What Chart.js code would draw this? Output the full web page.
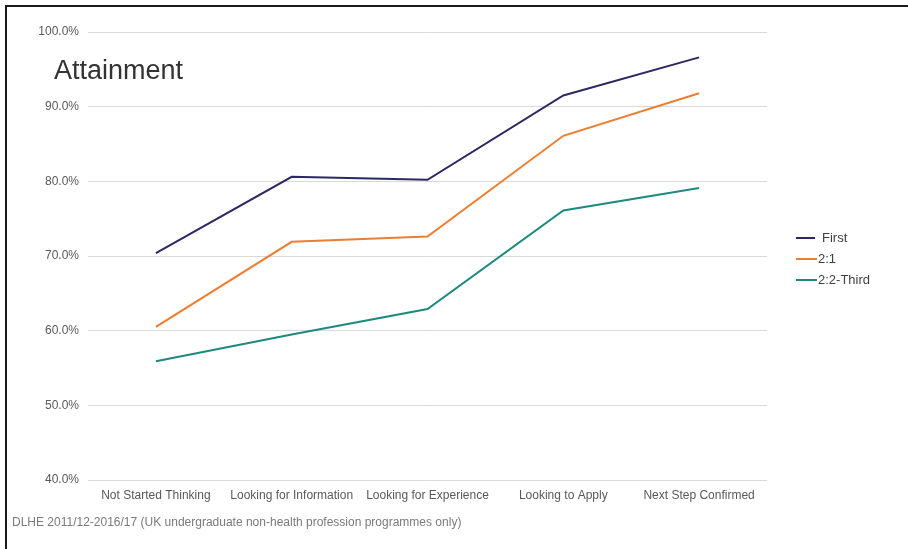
<!DOCTYPE html>
<html>
<head>
<meta charset="utf-8">
<script src="https://cdn.jsdelivr.net/npm/chart.js@4.4.0/dist/chart.umd.min.js"></script>
<style>
  html, body { margin: 0; padding: 0; background: #fff; overflow: hidden; }
  #frame {
    position: absolute; left: 5px; top: 5px;
    width: 901px; height: 542px;
    border-top: 2px solid #1a1a1a; border-left: 2px solid #1a1a1a; background: #fff;
  }
  #chart { position: absolute; left: 0; top: 0; }
  #note {
    position: absolute; left: 5px; top: 508px;
    font: 12px "Liberation Sans", Arial, sans-serif; color: #7a7a7a;
    white-space: nowrap;
  }
</style>
</head>
<body>
<div id="frame">
  <canvas id="chart" width="896" height="537"></canvas>
  <div id="note">DLHE 2011/12-2016/17 (UK undergraduate non-health profession programmes only)</div>
</div>
<script>
const categories = ['Not Started Thinking', 'Looking for Information', 'Looking for Experience', 'Looking to Apply', 'Next Step Confirmed'];
const firstValues = [70.4, 80.6, 80.2, 91.5, 96.6];
const upperSecondValues = [60.5, 71.9, 72.6, 86.1, 91.8];
const lowerSecondThirdValues = [55.9, 59.5, 62.9, 76.1, 79.1];
const seriesNames = ['First', '2:1', '2:2-Third'];
const seriesColors = ['#2b2963', '#ed7d31', '#1c8a7e'];
const yTicks = [40, 50, 60, 70, 80, 90, 100];

const FONT = '"Liberation Sans", Arial, sans-serif';

// title text sits inside the plot, top-left, like the original export
const titleAndLegend = {
  id: 'titleAndLegend',
  afterDraw(chart) {
    const { ctx } = chart;
    ctx.save();
    ctx.fillStyle = '#333333';
    ctx.font = `27px ${FONT}`;
    ctx.textBaseline = 'middle';
    ctx.textAlign = 'left';
    ctx.fillText('Attainment', 47, 65);

    ctx.font = `13px ${FONT}`;
    const rows = [231, 252, 273];
    chart.data.datasets.forEach((ds, i) => {
      const y = rows[i];
      ctx.strokeStyle = ds.borderColor;
      ctx.lineWidth = 2;
      ctx.beginPath();
      ctx.moveTo(789, y);
      ctx.lineTo(i === 0 ? 808 : 810, y);
      ctx.stroke();
      ctx.fillStyle = '#404040';
      ctx.fillText(ds.label, i === 0 ? 815 : 811, y);
    });
    ctx.restore();
  },
};

const ctx = document.getElementById('chart').getContext('2d');
new Chart(ctx, {
  type: 'line',
  data: {
    labels: categories,
    datasets: [firstValues, upperSecondValues, lowerSecondThirdValues].map((values, i) => ({
      label: seriesNames[i],
      data: values,
      borderColor: seriesColors[i],
      backgroundColor: seriesColors[i],
      borderWidth: 2,
      pointRadius: 0,
      tension: 0,
      fill: false,
    })),
  },
  options: {
    responsive: false,
    animation: false,
    layout: { padding: { top: 25, right: 136, bottom: 36, left: 0 } },
    plugins: {
      legend: { display: false },
      tooltip: { enabled: false },
    },
    scales: {
      x: {
        offset: true,
        grid: { display: false, drawTicks: false },
        border: { display: false },
        ticks: { color: '#595959', font: { size: 12, family: FONT }, padding: 8, maxRotation: 0, autoSkip: false },
        afterFit: (scale) => { scale.height = 28; },
      },
      y: {
        min: yTicks[0],
        max: yTicks[yTicks.length - 1],
        afterBuildTicks: (scale) => { scale.ticks = yTicks.map((v) => ({ value: v })); },
        grid: { color: '#d9d9d9', lineWidth: 1, drawTicks: false },
        border: { display: false },
        ticks: {
          color: '#595959',
          font: { size: 12, family: FONT },
          padding: 9,
          callback: (v) => `${Number(v).toFixed(1)}%`,
        },
        afterFit: (scale) => { scale.width = 81; },
      },
    },
  },
  plugins: [titleAndLegend],
});
</script>
</body>
</html>
